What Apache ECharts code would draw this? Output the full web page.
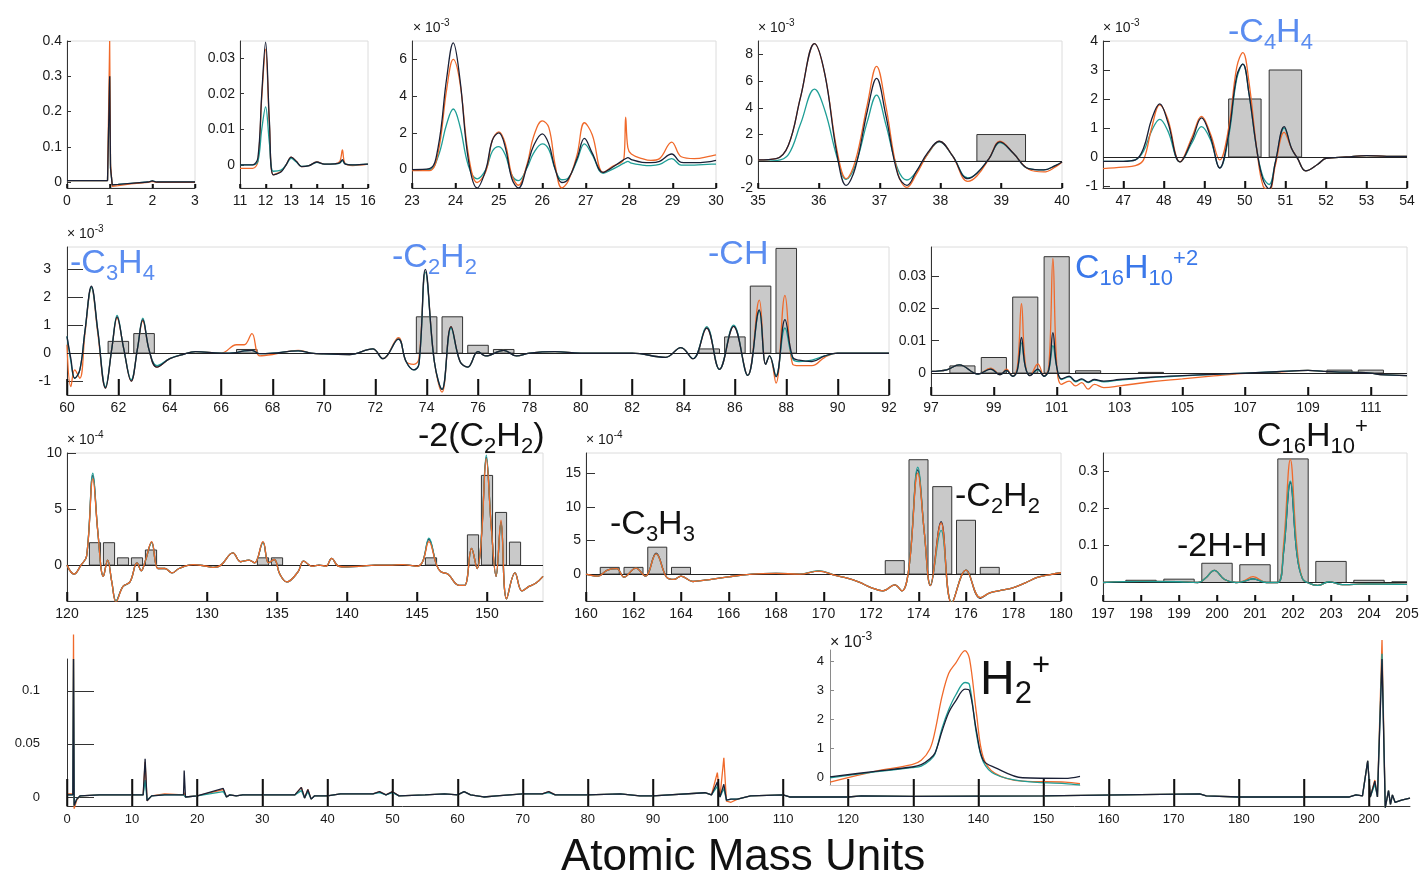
<!DOCTYPE html>
<html><head><meta charset="utf-8">
<script src="https://cdn.jsdelivr.net/npm/echarts@6/dist/echarts.min.js"></script>
<style>html,body{margin:0;padding:0;background:#fff}#c{width:1423px;height:875px}</style>
</head><body><div id="c"></div>
<script>
// ---------- DATA ----------
// Panel 1 (m/z 0-3)
const p1X = [0, 0.95, 0.98, 1.0, 1.02, 1.06, 1.2, 1.5, 1.9, 2.0, 2.1, 2.5, 3];
const p1O = [0.004,0.004,0.005,0.40,0.05,-0.012,-0.01,-0.005,-0.001,0.002,-0.001,-0.001,-0.001];
const p1T = [0.004,0.004,0.005,0.30,0.04,-0.008,-0.007,-0.004,0,0.003,0,0,0];
const p1D = [0.004,0.004,0.005,0.30,0.04,-0.008,-0.007,-0.004,0,0.003,0,0,0];
const p1XTicks = [0,1,2,3];
const p1YTicks = [0,0.1,0.2,0.3,0.4];
// Panel 2 (11-16)
const p2X = [11,11.5,11.7,11.85,12.0,12.15,12.3,12.6,12.8,13.0,13.2,13.4,13.7,14.0,14.3,14.7,14.9,15.0,15.1,15.4,16];
const p2D = [0,0,0.002,0.02,0.0345,0.012,-0.0028,-0.002,0,0.0022,0.001,-0.0005,-0.0002,0.0008,0.0002,0.0003,0.0006,0.0015,0.0003,0,0.0002];
const p2O = [-0.001,-0.001,0.001,0.019,0.0325,0.011,-0.0028,-0.0018,0,0.0022,0.001,-0.0005,-0.0002,0.0008,0.0002,0.0003,0.001,0.0042,0.0005,-0.0002,0.0002];
const p2T = [0,0,0.001,0.01,0.0163,0.006,-0.0018,-0.0015,0,0.0018,0.0008,-0.0004,-0.0002,0.0007,0.0002,0.0003,0.0005,0.0012,0.0003,0,0.0002];
const p2XTicks = [11,12,13,14,15,16];
const p2YTicks = [0,0.01,0.02,0.03];
// Panel 3 (23-30) x 1e-3
const p3X = [23,23.4,23.6,23.8,23.95,24.1,24.3,24.5,24.7,24.85,25.0,25.15,25.3,25.45,25.65,25.8,26.0,26.15,26.3,26.45,26.6,26.8,26.97,27.15,27.4,27.6,27.88,27.92,27.97,28.05,28.3,28.5,28.7,28.98,29.2,29.5,29.9,30];
const p3D = [0,0.05,1.2,5.0,6.9,5.0,0.5,-1.0,0.0,1.6,2.0,1.2,-0.5,-1.0,0.2,1.3,1.95,1.4,0.0,-0.7,-0.5,0.6,1.7,0.9,-0.15,0.1,0.55,0.6,0.65,0.55,0.4,0.38,0.45,0.85,0.4,0.38,0.45,0.5];
const p3O = [-0.05,-0.05,0.9,4.4,6.0,4.8,0.8,-0.7,-0.1,1.6,2.05,1.4,-0.3,-0.85,0.3,1.8,2.65,2.3,0.2,-1.0,-0.6,0.8,2.55,1.9,-0.15,0.15,0.6,2.85,1.2,0.85,0.6,0.5,0.6,1.5,0.7,0.6,0.75,0.8];
const p3T = [0,0,0.7,2.5,3.3,2.4,0.2,-0.5,0.0,1.0,1.25,0.8,-0.3,-0.6,0.1,0.9,1.4,1.1,0.0,-0.55,-0.45,0.5,1.4,0.8,-0.2,0.0,0.35,0.4,0.45,0.35,0.25,0.22,0.28,0.6,0.25,0.25,0.3,0.3];
const p3XTicks = [23,24,25,26,27,28,29,30];
const p3YTicks = [0,2,4,6];
// Panel 4 (35-40) x 1e-3
const p4X = [35,35.3,35.5,35.7,35.93,36.1,36.3,36.45,36.6,36.8,36.95,37.1,37.3,37.45,37.6,37.8,37.98,38.2,38.45,38.6,38.8,38.98,39.2,39.45,39.7,39.9,40];
const p4D = [0.1,0.2,1.2,4.8,8.8,6.5,0.5,-1.8,-0.5,3.8,6.2,3.5,-1.0,-1.8,-0.8,0.7,1.5,0.4,-1.3,-0.9,0.2,1.45,0.6,-0.55,-0.65,-0.3,-0.05];
const p4O = [0.1,0.2,1.2,4.8,8.8,6.5,0.8,-1.3,0.0,4.3,7.1,4.2,-0.9,-1.95,-1.0,0.6,1.5,0.4,-1.5,-1.1,0.2,1.5,0.6,-0.6,-0.8,-0.4,-0.05];
const p4T = [0.0,0.05,0.5,2.8,5.4,3.8,0.3,-1.35,-0.3,3.0,4.95,2.8,-0.6,-1.4,-0.8,0.6,1.45,0.4,-1.25,-0.9,0.2,1.4,0.6,-0.55,-0.65,-0.3,-0.05];
const p4BarX = [39];
const p4BarY = [2];
const p4XTicks = [35,36,37,38,39,40];
const p4YTicks = [-2,0,2,4,6,8];
// Panel 5 (46.5-54) x 1e-3
const p5X = [46.5,47.0,47.3,47.5,47.7,47.9,48.1,48.4,48.7,48.93,49.15,49.38,49.6,49.8,49.95,50.1,50.3,50.45,50.6,50.75,50.97,51.15,51.3,51.5,51.8,52.0,52.5,53.0,53.5,54];
const p5D = [-0.15,-0.15,-0.1,0.3,1.3,1.83,1.2,-0.17,0.6,1.35,0.7,-0.38,0.8,2.8,3.2,2.2,0.2,-0.8,-1.1,-0.2,1.05,0.3,-0.05,-0.48,-0.25,-0.05,0,0.05,0.02,0.02];
const p5O = [-0.4,-0.35,-0.3,-0.1,1.0,1.8,1.3,-0.17,0.7,1.4,0.8,-0.1,1.0,3.1,3.6,2.6,0.2,-1.0,-1.15,-0.3,0.85,0.3,-0.05,-0.48,-0.25,-0.05,0,0.05,0.02,0.02];
const p5T = [-0.15,-0.15,-0.1,0.2,0.9,1.3,0.9,-0.17,0.5,1.05,0.6,-0.38,0.7,2.7,3.2,2.2,0.2,-0.7,-0.95,-0.2,1.0,0.3,-0.05,-0.48,-0.25,-0.05,0,0.05,0.02,0.02];
const p5BarX = [50, 51];
const p5BarY = [2, 3];
const p5XTicks = [47,48,49,50,51,52,53,54];
const p5YTicks = [-1,0,1,2,3,4];
// Panel 6 (60-92) x 1e-3
const p6X = [60,60.15,60.3,60.5,60.7,60.95,61.2,61.5,61.75,61.95,62.2,62.5,62.75,62.95,63.2,63.5,64,64.5,65,66,66.6,66.9,67.2,67.5,68,69,69.5,70,71,71.9,72.3,72.9,73.2,73.5,73.7,73.95,74.3,74.6,74.95,75.3,75.6,76,76.3,77,77.5,78,79,80,82,83.3,83.9,84.37,84.9,85.4,85.95,86.5,86.95,87.2,87.35,87.6,87.95,88.25,88.5,89,89.5,90,92];
const p6D = [0.6,-0.2,-0.9,-0.6,0.8,2.4,0.8,-1.25,0.2,1.3,0.2,-1.0,0.2,1.2,0.1,-0.5,-0.2,-0.05,0.05,0,0.02,0.08,0.1,-0.02,0,0.08,0,-0.03,-0.05,0.15,-0.2,0.5,-0.3,-0.6,-0.4,3.0,-0.3,-1.3,0.95,-0.3,-0.5,0.05,-0.1,0.1,-0.1,0,0.05,0,0,-0.15,0.2,-0.2,0.9,-0.58,0.96,-0.8,1.55,-0.4,-0.1,-0.85,1.2,-0.15,-0.25,-0.3,-0.1,0,0];
const p6O = [0.3,-1.2,-0.6,-0.9,0.7,2.35,0.7,-1.25,0.2,1.25,0.2,-1.0,0.2,1.15,0.1,-0.5,-0.2,-0.05,0.05,0,0.3,0.3,0.7,-0.1,-0.05,0.1,0,-0.03,-0.05,0.15,-0.2,0.55,-0.3,-0.4,-0.2,2.9,-0.3,-1.4,0.95,-0.3,-0.5,0.05,-0.1,0.1,-0.1,0,0.05,0,0,-0.15,0.2,-0.2,0.9,-0.58,0.96,-0.8,1.9,-0.4,-0.1,-1.07,2.07,-0.4,-0.45,-0.45,-0.15,0,0];
const p6T = [0.6,-0.3,-0.9,-0.6,0.8,2.35,0.8,-1.2,0.2,1.35,0.2,-0.95,0.2,1.25,0.1,-0.45,-0.2,-0.05,0.05,0,0.02,0.08,0.1,-0.02,0,0.08,0,-0.03,-0.05,0.15,-0.2,0.5,-0.3,-0.6,-0.4,2.9,-0.3,-1.3,0.9,-0.3,-0.5,0.05,-0.1,0.1,-0.1,0,0.05,0,0,-0.15,0.2,-0.2,0.95,-0.58,1.0,-0.8,1.5,-0.4,-0.1,-0.8,0.9,-0.2,-0.3,-0.25,-0.1,0,0];
const p6BarX = [62,63,67,74,75,76,77,85,86,87,88];
const p6BarY = [0.42,0.7,0.13,1.3,1.3,0.28,0.13,0.15,0.58,2.4,3.75];
const p6XTicks = [60,62,64,66,68,70,72,74,76,78,80,82,84,86,88,90,92];
const p6YTicks = [-1,0,1,2,3];
// Panel 7 (97-112)
const p7X = [97,97.5,97.9,98.5,98.9,99.2,99.4,99.6,99.75,99.88,100.0,100.15,100.4,100.6,100.75,100.88,101.0,101.15,101.4,101.6,101.8,102,102.2,102.5,103,104,105,106,107,108,109,109.5,110,110.5,111,111.3,112.15];
const p7D = [0.0005,0.001,0.0025,-0.0003,0.0012,-0.0005,0.0008,-0.001,0.001,0.011,0.002,-0.0008,0.0012,-0.001,0.001,0.0125,0.002,-0.0018,-0.001,-0.0025,-0.0018,-0.0028,-0.002,-0.0025,-0.002,-0.0013,-0.0008,-0.0004,0,0.0004,0.0008,0.0005,0.0003,0.0002,0,-0.0005,-0.0008];
const p7O = [0.0005,0.001,0.0025,-0.0003,0.0015,-0.0005,0.0012,-0.001,0.002,0.0215,0.003,-0.0008,0.0028,-0.001,0.002,0.0355,0.003,-0.0035,-0.0025,-0.004,-0.003,-0.005,-0.0035,-0.0045,-0.004,-0.0027,-0.0018,-0.0009,-0.0001,0.0003,0.0008,0.0005,0.0003,0.0002,0,-0.0005,-0.0008];
const p7T = [0.0005,0.001,0.0025,-0.0003,0.0012,-0.0005,0.0008,-0.001,0.001,0.0093,0.002,-0.0008,0.001,-0.001,0.001,0.0085,0.002,-0.002,-0.0012,-0.0027,-0.002,-0.003,-0.0022,-0.0027,-0.0022,-0.0014,-0.0009,-0.0004,0,0.0004,0.0008,0.0005,0.0003,0.0002,0,-0.0005,-0.0008];
const p7BarX = [98,99,100,101,102,104,110,111];
const p7BarY = [0.0022,0.0048,0.0235,0.036,0.0007,0.0002,0.0009,0.0009];
const p7XTicks = [97,99,101,103,105,107,109,111];
const p7YTicks = [0,0.01,0.02,0.03];
// Panel 8 (120-154) x 1e-4
const p8X = [120,120.5,121,121.4,121.85,122.2,122.6,122.9,123.2,123.5,124,124.5,125,125.3,125.6,126.05,126.5,127,127.5,128,129,130,130.5,131,131.85,132.4,133,133.4,134,134.4,134.8,135.2,135.7,136.5,136.9,137.5,138,138.5,138.9,139.4,140,141,142,143,144,145,145.4,145.85,146.4,146.7,147.2,148,148.4,148.9,149.3,149.6,149.95,150.3,150.65,151.0,151.4,152.0,152.5,153,153.5,154];
const p8D = [0,-0.8,0.0,0.8,8.0,3.0,-1.0,0.45,-1.5,-3.2,-1.9,-1.5,0.2,-0.5,0.4,2.05,-0.3,-0.3,-0.7,-0.3,0.05,-0.1,-0.2,0.0,1.1,0.3,0.45,0.2,2.05,0.2,0.5,-0.8,-1.5,-0.6,0.35,-0.1,0.0,-0.1,0.6,-0.1,-0.15,-0.1,0,0,0.05,-0.1,0.3,2.3,0.0,-0.6,-0.8,-1.8,-1.8,1.5,-0.3,2.5,9.6,3.5,-1.0,3.85,-3.0,-0.7,-2.3,-1.9,-1.6,-1.0];
const p8O = [0,-0.8,0.0,0.8,7.7,3.0,-1.0,0.45,-1.5,-3.3,-1.9,-1.5,0.2,-0.5,0.4,2.1,-0.3,-0.3,-0.7,-0.3,0.05,-0.1,-0.2,0.0,1.1,0.3,0.45,0.2,2.1,0.2,0.5,-0.8,-1.5,-0.6,0.35,-0.1,0.0,-0.1,0.6,-0.1,-0.15,-0.1,0,0,0.05,-0.1,0.3,2.1,0.0,-0.6,-0.8,-1.8,-1.8,1.5,-0.3,2.4,9.5,3.5,-1.0,4.0,-3.0,-0.7,-2.3,-1.9,-1.6,-1.0];
const p8T = [0,-0.8,0.0,0.8,8.2,3.0,-1.0,0.45,-1.5,-3.2,-1.9,-1.5,0.2,-0.5,0.4,2.0,-0.3,-0.3,-0.7,-0.3,0.05,-0.1,-0.2,0.0,1.1,0.3,0.45,0.2,2.0,0.2,0.5,-0.8,-1.5,-0.6,0.35,-0.1,0.0,-0.1,0.6,-0.1,-0.15,-0.1,0,0,0.05,-0.1,0.3,2.4,0.0,-0.6,-0.8,-1.8,-1.8,1.5,-0.3,2.6,9.8,3.5,-1.0,3.8,-3.0,-0.7,-2.3,-1.9,-1.6,-1.0];
const p8BarX = [122,123,124,125,126,134,135,146,149,150,151,152];
const p8BarY = [2,2,0.65,0.65,1.35,0.65,0.65,0.65,2.7,8.0,4.7,2.05];
const p8XTicks = [120,125,130,135,140,145,150];
const p8YTicks = [0,5,10];
// Panel 9 (160-180) x 1e-4
const p9X = [160,160.5,160.9,161.3,161.6,162.1,162.5,162.95,163.4,163.7,164,164.5,165,166,167,168,169,169.8,170.5,171,171.5,172,172.5,173,173.3,173.6,173.97,174.25,174.5,174.95,175.4,176.0,176.6,177,177.5,178,178.5,179,179.5,180];
const p9D = [0,-0.3,0.6,0.8,-0.45,0.9,-0.3,3.1,-0.5,-0.8,-0.3,-1.1,-0.9,-0.4,0.0,0.1,0.0,0.45,-0.2,-0.6,-1.2,-2.0,-2.5,-1.6,-2.5,1.0,15.5,6.0,-1.7,7.8,-4.3,0.6,-3.6,-2.8,-2.4,-2.0,-1.3,-0.5,-0.1,0.2];
const p9O = [0,-0.3,0.6,0.8,-0.45,0.9,-0.3,3.0,-0.5,-0.8,-0.3,-1.1,-0.9,-0.4,0.0,0.1,0.0,0.45,-0.2,-0.6,-1.2,-2.0,-2.5,-1.6,-2.5,1.0,15.0,6.0,-1.7,7.6,-4.3,0.6,-3.5,-2.8,-2.4,-2.0,-1.3,-0.5,-0.1,0.2];
const p9T = [0,-0.3,0.6,0.8,-0.45,0.9,-0.3,3.0,-0.5,-0.8,-0.3,-1.1,-0.9,-0.4,0.0,0.1,0.0,0.5,-0.2,-0.6,-1.2,-2.0,-2.5,-1.6,-2.5,1.0,15.9,6.0,-1.6,6.5,-4.2,0.6,-3.5,-2.8,-2.4,-2.0,-1.3,-0.5,-0.1,0.2];
const p9BarX = [161,162,163,164,173,174,175,176,177];
const p9BarY = [1,1,4,1,2,17,13,8,1];
const p9XTicks = [160,162,164,166,168,170,172,174,176,178,180];
const p9YTicks = [0,5,10,15];
// Panel 10 (197-205)
const p10X = [197,198,199,199.5,199.7,199.93,200.2,200.5,200.7,200.95,201.3,201.6,201.75,201.93,202.1,202.25,202.45,202.65,202.95,203.3,203.6,204,205];
const p10O = [0,0.003,0.002,0,0.012,0.033,0.008,0,0.004,0.016,0,0,0.1,0.332,0.1,0.01,-0.003,-0.008,0.002,-0.006,-0.005,-0.004,-0.005];
const p10T = [0,0.003,0.002,0,0.012,0.033,0.008,0,0.003,0.01,0,0,0.08,0.274,0.08,0.01,-0.003,-0.008,0.002,-0.006,-0.005,-0.004,-0.005];
const p10D = [0,0.003,0.002,0,0.012,0.033,0.008,0,0.003,0.01,0,0,0.08,0.27,0.08,0.01,-0.003,-0.008,0.002,-0.006,-0.005,-0.004,-0.005];
const p10BarX = [198,199,200,201,202,203,204,205];
const p10BarY = [0.006,0.009,0.052,0.048,0.334,0.057,0.006,0.002];
const p10XTicks = [197,198,199,200,201,202,203,204,205];
const p10YTicks = [0,0.1,0.2,0.3];
// Main overview (0-206)
const pmX = [0,0.9,1.0,1.1,1.5,2,5,11.7,12,12.3,13,15,17.9,18,18.2,20,24,24.5,25,26,27,30,35,36,36.5,37,37.5,38,39,40,42,47,48,49,50,51,55,58,60,61,62,63,64,66,70,73,74,75,80,85,88,90,98,99,99.9,100.3,100.9,101.3,102,103,105,110,111,120,122,130,150,174,175,180,197,198,199,199.8,200.2,200.9,201.3,202,202.5,203,203.3,203.6,204,205,206.3];
const pmD = [0.002,0.002,0.13,-0.008,-0.002,0.001,0.002,0.002,0.036,-0.0035,0.001,0.002,0.002,0.025,0.0,0.001,0.008,0.0,0.002,0.001,0.002,0.002,0.002,0.009,-0.001,0.007,-0.002,0.001,0.001,0.001,0.003,0.003,0.005,0.002,0.005,0.001,0.002,0.003,0.002,0.005,0.002,0.001,0.0,0.001,0.003,0.003,0.005,0.002,0.002,0.003,0.001,0.001,0.004,0.002,0.014,0.0,0.012,-0.003,-0.002,-0.002,0.001,0.002,0.0,0.0,0.001,0.0005,0.001,0.003,0.001,0.0,0.0,0.002,0.001,0.034,0.0,0.015,0.0,0.13,-0.01,0.006,-0.007,0.002,-0.005,-0.003,-0.001];
const pmO = [0.003,0.003,0.153,-0.011,-0.003,0.001,0.002,0.002,0.033,-0.0035,0.001,0.003,0.002,0.004,0.0,0.001,0.007,0.0,0.002,0.001,0.002,0.002,0.002,0.009,-0.001,0.007,-0.002,0.001,0.001,0.001,0.003,0.003,0.005,0.002,0.005,0.001,0.002,0.003,0.002,0.005,0.002,0.001,0.0,0.001,0.003,0.003,0.005,0.002,0.002,0.003,0.001,0.001,0.004,0.002,0.023,0.0,0.037,-0.004,-0.005,-0.002,0.001,0.002,0.0,0.0,0.001,0.0005,0.001,0.003,0.001,0.0,0.0,0.002,0.001,0.034,0.0,0.016,0.0,0.148,-0.01,0.006,-0.007,0.002,-0.005,-0.003,-0.001];
const pmT = [0.002,0.002,0.13,-0.008,-0.002,0.001,0.002,0.002,0.016,-0.003,0.001,0.002,0.002,0.003,0.0,0.001,0.005,0.0,0.002,0.001,0.002,0.002,0.002,0.006,-0.001,0.005,-0.002,0.001,0.001,0.001,0.003,0.003,0.004,0.002,0.004,0.001,0.002,0.003,0.002,0.005,0.002,0.001,0.0,0.001,0.003,0.003,0.004,0.002,0.002,0.003,0.001,0.001,0.004,0.002,0.01,0.0,0.008,-0.003,-0.002,-0.002,0.001,0.002,0.0,0.0,0.001,0.0005,0.001,0.003,0.001,0.0,0.0,0.002,0.001,0.034,0.0,0.012,0.0,0.135,-0.01,0.006,-0.007,0.002,-0.005,-0.003,-0.001];
const pmXTicks = [0,10,20,30,40,50,60,70,80,90,100,110,120,130,140,150,160,170,180,190,200];
const pmYTicks = [0,0.05,0.1];
// Inset (H2+ peak, x 1e-3)
const inX = [0,18,32.8,36.5,40,42,44.8,47.5,50.3,54,55.8,58.6,61.3,66,77,94,100];
const inD = [0.03,0.22,0.37,0.45,0.65,0.85,1.6,2.25,2.65,3.05,3.0,1.6,0.6,0.35,0.0,-0.02,0.05];
const inO = [-0.15,0.22,0.45,0.6,1.0,1.6,2.8,3.6,3.95,4.38,4.1,2.2,0.7,0.15,-0.12,-0.15,-0.2];
const inT = [0.0,0.2,0.35,0.4,0.6,0.82,1.7,2.35,2.85,3.28,3.2,1.5,0.55,0.12,-0.12,-0.2,-0.25];
const inYTicks = [0,1,2,3,4];

// ---------- CHART ----------
const FONT = '"Liberation Sans", Arial, sans-serif';
const C_O = '#f0692a', C_T = '#1f9e96', C_D = '#1a2036';
const BLUE = '#5a8cf0', BLUE2 = '#3a78ea';
const zip = (xs, ys) => xs.map((x, i) => [x, ys[i]]);

const grids = [], xAxes = [], yAxes = [], series = [];
function addPanel(cfg) {
  const gi = grids.length;
  grids.push({left: cfg.l, top: cfg.t, width: cfg.w, height: cfg.h, show: cfg.box !== false,
    borderColor: '#dcdcdc', borderWidth: 1, backgroundColor: cfg.bg || 'transparent'});
  const tl = cfg.tick || 6;
  xAxes.push({type: 'value', gridIndex: gi, min: cfg.xmin, max: cfg.xmax,
    axisLine: {show: true, onZero: false, lineStyle: {color: cfg.axColor || '#333', width: 1}},
    axisTick: {show: !!cfg.xt, inside: true, length: tl, customValues: cfg.xt || [], lineStyle: {color: '#111', width: 1.5}},
    axisLabel: {show: !!cfg.xt, customValues: cfg.xt || [], color: '#1a1a1a', fontSize: cfg.fs || 14, fontFamily: FONT, margin: cfg.xm || 6},
    splitLine: {show: false}});
  yAxes.push({type: 'value', gridIndex: gi, min: cfg.ymin, max: cfg.ymax,
    axisLine: {show: true, onZero: false, lineStyle: {color: cfg.ayColor || '#333', width: 1}},
    axisTick: {show: true, inside: true, length: cfg.ytick || tl, customValues: cfg.yt, lineStyle: {color: cfg.ayColor || '#333'}},
    axisLabel: {customValues: cfg.yt, color: '#1a1a1a', fontSize: cfg.fs || 14, fontFamily: FONT, margin: cfg.ym || 5},
    splitLine: {show: false}});
  if (cfg.bars) {
    series.push({type: 'custom', xAxisIndex: gi, yAxisIndex: gi, clip: true, z: 1, silent: true,
      data: zip(cfg.bars[0], cfg.bars[1]),
      renderItem: (params, api) => {
        const x = api.value(0), y = api.value(1);
        const a = api.coord([x - 0.4, y]), b = api.coord([x + 0.4, 0]);
        return {type: 'rect', shape: {x: a[0], y: Math.min(a[1], b[1]), width: b[0] - a[0], height: Math.abs(b[1] - a[1])},
          style: {fill: '#c9c9c9', stroke: '#333', lineWidth: 1}};
      }});
  }
  if (cfg.xt) {
    // inward x tick marks at the tick values (drawn as a custom series as well, for robustness)
    const L = tl;
    series.push({type: 'custom', xAxisIndex: gi, yAxisIndex: gi, clip: false, z: 10,
      data: cfg.xt.map(v => [v, cfg.ymin]),
      renderItem: (params, api) => {
        const p = api.coord([api.value(0), api.value(1)]);
        const x = Math.round(p[0]) + 0.5, y = Math.round(p[1]);
        return {type: 'line', shape: {x1: x, y1: y, x2: x, y2: y - L}, style: {stroke: '#111', lineWidth: 1.5}};
      }});
  }
  if (cfg.zero) {
    series.push({type: 'line', xAxisIndex: gi, yAxisIndex: gi, data: [], z: 2, silent: true,
      markLine: {symbol: 'none', silent: true, animation: false, label: {show: false},
        lineStyle: {color: '#222', type: 'solid', width: 1.2}, data: [{yAxis: 0}]}});
  }
  cfg.lines.forEach((ln, k) => {
    series.push({type: 'line', xAxisIndex: gi, yAxisIndex: gi, data: zip(cfg.x, ln[0]), symbol: 'none',
      smooth: cfg.smooth, clip: cfg.clip !== false, z: 3 + k, silent: true,
      lineStyle: {color: ln[1], width: 1.3}, itemStyle: {color: ln[1]}});
  });
}

addPanel({l: 67, t: 41, w: 128, h: 147, xmin: 0, xmax: 3, ymin: -0.017, ymax: 0.4, xt: p1XTicks, yt: p1YTicks,
  tick: 4, x: p1X, smooth: false, lines: [[p1T, C_T], [p1O, C_O], [p1D, C_D]]});
addPanel({l: 240, t: 41, w: 128, h: 147, xmin: 11, xmax: 16, ymin: -0.0065, ymax: 0.0348, xt: p2XTicks, yt: p2YTicks,
  tick: 4, x: p2X, smooth: 0.35, lines: [[p2O, C_O], [p2T, C_T], [p2D, C_D]]});
addPanel({l: 412, t: 41, w: 304, h: 147, xmin: 23, xmax: 30, ymin: -1, ymax: 7, xt: p3XTicks, yt: p3YTicks,
  tick: 5, x: p3X, smooth: 0.4, lines: [[p3T, C_T], [p3O, C_O], [p3D, C_D]]});
addPanel({l: 758, t: 41, w: 304, h: 147, xmin: 35, xmax: 40, ymin: -2, ymax: 9, xt: p4XTicks, yt: p4YTicks,
  tick: 5, x: p4X, smooth: 0.4, zero: true, bars: [p4BarX, p4BarY], lines: [[p4T, C_T], [p4O, C_O], [p4D, C_D]]});
addPanel({l: 1103, t: 41, w: 304, h: 147, xmin: 46.5, xmax: 54, ymin: -1.07, ymax: 4, xt: p5XTicks, yt: p5YTicks,
  tick: 7, x: p5X, smooth: 0.4, zero: true, bars: [p5BarX, p5BarY], lines: [[p5T, C_T], [p5O, C_O], [p5D, C_D]]});
addPanel({l: 67, t: 247, w: 822, h: 148, xmin: 60, xmax: 92, ymin: -1.5, ymax: 3.8, xt: p6XTicks, yt: p6YTicks,
  tick: 16, ym: 16, x: p6X, smooth: 0.4, zero: true, bars: [p6BarX, p6BarY], lines: [[p6O, C_O], [p6T, C_T], [p6D, C_D]]});
addPanel({l: 931, t: 247, w: 476, h: 148, xmin: 97, xmax: 112.15, ymin: -0.0068, ymax: 0.039, xt: p7XTicks, yt: p7YTicks,
  tick: 8, x: p7X, smooth: 0.4, zero: true, bars: [p7BarX, p7BarY], lines: [[p7O, C_O], [p7T, C_T], [p7D, C_D]]});
addPanel({l: 67, t: 453, w: 476, h: 148, xmin: 120, xmax: 154, ymin: -3.2, ymax: 10, xt: p8XTicks, yt: p8YTicks,
  tick: 9, x: p8X, smooth: 0.4, zero: true, bars: [p8BarX, p8BarY], lines: [[p8D, C_D], [p8T, C_T], [p8O, C_O]]});
addPanel({l: 586, t: 453, w: 475, h: 148, xmin: 160, xmax: 180, ymin: -4, ymax: 18, xt: p9XTicks, yt: p9YTicks,
  tick: 9, x: p9X, smooth: 0.4, zero: true, bars: [p9BarX, p9BarY], lines: [[p9D, C_D], [p9T, C_T], [p9O, C_O]]});
addPanel({l: 1103, t: 453, w: 304, h: 148, xmin: 197, xmax: 205, ymin: -0.05, ymax: 0.35, xt: p10XTicks, yt: p10YTicks,
  tick: 6, x: p10X, smooth: 0.4, zero: true, bars: [p10BarX, p10BarY], lines: [[p10D, C_D], [p10O, C_O], [p10T, C_T]]});
addPanel({l: 67, t: 659, w: 1343, h: 147, box: false, xmin: 0, xmax: 206.3, ymin: -0.0085, ymax: 0.13, xt: pmXTicks, yt: pmYTicks,
  tick: 27, fs: 13, ym: 27, xm: 7, x: pmX, smooth: false, clip: false, lines: [[pmO, C_O], [pmT, C_T], [pmD, C_D]]});
addPanel({l: 830, t: 650, w: 250, h: 135, box: true, bg: '#ffffff', xmin: 0, xmax: 100, ymin: -0.25, ymax: 4.4, xt: null, yt: inYTicks,
  tick: 4, fs: 13, ym: 6, axColor: '#cfcfcf', ayColor: '#8a8a8a', x: inX, smooth: 0.35, lines: [[inO, C_O], [inT, C_T], [inD, C_D]]});
grids[grids.length - 1].borderWidth = 0;

// text helpers
function chem(parts, size, color) {
  const sub = Math.round(size * 0.64), off = Math.round(size * 0.58);
  return {
    text: parts.map(p => '{' + p[0] + '|' + p[1] + '}').join(''),
    rich: {
      m: {fontSize: size, fontFamily: FONT, fill: color},
      s: {fontSize: sub, fontFamily: FONT, fill: color, padding: [off, 0, 0, 0]},
      p: {fontSize: sub, fontFamily: FONT, fill: color, padding: [0, 0, off, 0]}
    }
  };
}
function label(left, top, parts, size, color) {
  return {type: 'text', left, top, z: 100, silent: true, style: chem(parts, size, color)};
}
function scaleTag(left, top, exp, size) {
  return {type: 'text', left, top, z: 100, silent: true, style: {
    text: '{m|× 10}{p|' + exp + '}',
    rich: {m: {fontSize: size, fontFamily: FONT, fill: '#1a1a1a'},
           p: {fontSize: Math.round(size * 0.72), fontFamily: FONT, fill: '#1a1a1a', padding: [0, 0, 11, 0]}}}};
}

const graphic = [
  label(1228, 16, [['m','-C'],['s','4'],['m','H'],['s','4']], 34, BLUE),
  label(70, 247, [['m','-C'],['s','3'],['m','H'],['s','4']], 34, BLUE),
  label(392, 241, [['m','-C'],['s','2'],['m','H'],['s','2']], 34, BLUE),
  label(708, 238, [['m','-CH']], 34, BLUE),
  label(1075, 248, [['m','C'],['s','16'],['m','H'],['s','10'],['p','+2']], 34, BLUE2),
  label(418, 420, [['m','-2(C'],['s','2'],['m','H'],['s','2'],['m',')']], 34, '#111'),
  label(610, 508, [['m','-C'],['s','3'],['m','H'],['s','3']], 34, '#111'),
  label(955, 480, [['m','-C'],['s','2'],['m','H'],['s','2']], 34, '#111'),
  label(1257, 416, [['m','C'],['s','16'],['m','H'],['s','10'],['p','+']], 34, '#111'),
  label(1177, 530, [['m','-2H-H']], 34, '#111'),
  label(980, 651, [['m','H'],['s','2'],['p','+']], 48, '#111'),
  {type: 'text', left: 561, top: 836, z: 100, silent: true, style: {text: 'Atomic Mass Units', fontSize: 44, fontFamily: FONT, fill: '#111'}},
  scaleTag(413, 18, '-3', 14),
  scaleTag(758, 18, '-3', 14),
  scaleTag(1103, 18, '-3', 14),
  scaleTag(67, 224, '-3', 14),
  scaleTag(67, 430, '-4', 14),
  scaleTag(586, 430, '-4', 14),
  scaleTag(830, 631, '-3', 16)
];

const chart = echarts.init(document.getElementById('c'), null, {renderer: 'canvas'});
chart.setOption({animation: false, backgroundColor: '#ffffff', grid: grids, xAxis: xAxes, yAxis: yAxes, series, graphic});
</script></body></html>
